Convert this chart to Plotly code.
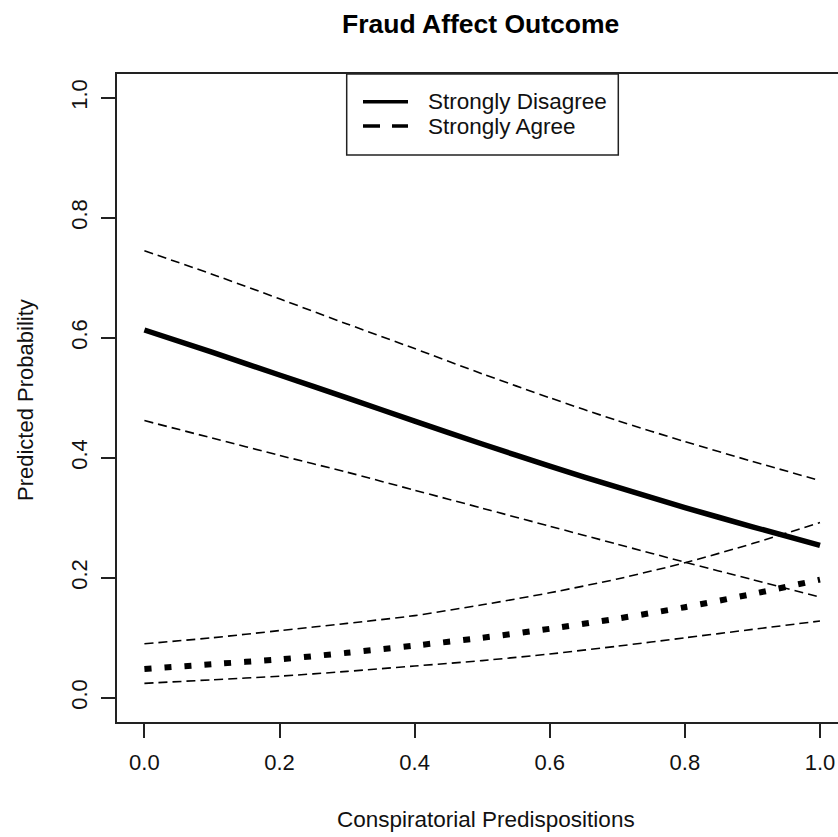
import plotly.graph_objects as go

# ---- data ----
x_vals = [0.0, 0.1, 0.2, 0.3, 0.4, 0.5, 0.6, 0.7, 0.8, 0.9, 1.0]

disagree_mean  = [0.613, 0.576, 0.538, 0.500, 0.461, 0.423, 0.386, 0.351, 0.317, 0.285, 0.254]
disagree_upper = [0.745, 0.706, 0.665, 0.623, 0.582, 0.540, 0.500, 0.462, 0.427, 0.394, 0.362]
disagree_lower = [0.462, 0.433, 0.404, 0.376, 0.346, 0.316, 0.286, 0.256, 0.226, 0.197, 0.168]

agree_mean  = [0.048, 0.056, 0.064, 0.075, 0.087, 0.100, 0.115, 0.132, 0.151, 0.173, 0.197]
agree_upper = [0.090, 0.100, 0.112, 0.124, 0.137, 0.155, 0.175, 0.198, 0.225, 0.257, 0.292]
agree_lower = [0.024, 0.030, 0.036, 0.044, 0.053, 0.062, 0.073, 0.086, 0.100, 0.114, 0.128]

tick_vals = [0.0, 0.2, 0.4, 0.6, 0.8, 1.0]
tick_text = ["0.0", "0.2", "0.4", "0.6", "0.8", "1.0"]

legend_labels = ["Strongly Disagree", "Strongly Agree"]
title_text = "Fraud Affect Outcome"
x_title = "Conspiratorial Predispositions"
y_title = "Predicted Probability"

FONT = "Liberation Sans, Arial, sans-serif"
W, H = 838, 837
L, R, T, B = 117, 0, 74, 115

fig = go.Figure()

ci_style = dict(color="black", width=1.6, dash="9px,5px", shape="spline", smoothing=0.6)
for ys in (disagree_upper, disagree_lower, agree_upper, agree_lower):
    fig.add_trace(go.Scatter(x=x_vals, y=ys, mode="lines", line=ci_style,
                             showlegend=False, hoverinfo="skip"))

fig.add_trace(go.Scatter(x=x_vals, y=disagree_mean, mode="lines",
                         line=dict(color="black", width=5.5, shape="spline", smoothing=0.6),
                         showlegend=False))
fig.add_trace(go.Scatter(x=x_vals, y=agree_mean, mode="lines",
                         line=dict(color="black", width=6, dash="7px,13px",
                                   shape="spline", smoothing=0.6),
                         showlegend=False))

# axis ranges so that the frame matches R's 4% padding (right side cut off)
x0 = (L - 144.4) / 675.6
x1 = (W - R - 144.4) / 675.6
y_top = (697.8 - T) / 600.0
y_bot = (697.8 - (H - B)) / 600.0

fig.update_xaxes(range=[x0, x1], tickvals=tick_vals, ticktext=tick_text,
                 ticks="outside", ticklen=14, tickwidth=1.5, tickcolor="#222",
                 showline=True, linewidth=1.5, linecolor="#222", mirror=True,
                 showgrid=False, zeroline=False,
                 tickfont=dict(family=FONT, size=22, color="#111"),
                 ticklabelstandoff=6)
fig.update_yaxes(range=[y_bot, y_top], tickvals=tick_vals, ticktext=tick_text,
                 ticks="outside", ticklen=14, tickwidth=1.5, tickcolor="#222",
                 showline=True, linewidth=1.5, linecolor="#222", mirror=False,
                 showgrid=False, zeroline=False, tickangle=-90,
                 tickfont=dict(family=FONT, size=22, color="#111"),
                 ticklabelstandoff=5)

# ---- legend box (drawn like R's legend("top")) ----
def dx(px):
    return (px - 144.4) / 675.6

def dy(py):
    return (697.8 - py) / 600.0

fig.add_shape(type="rect", xref="x", yref="y", x0=dx(346.7), x1=dx(618.3),
              y0=dy(155), y1=y_top, line=dict(color="#222", width=1.5),
              fillcolor="white", layer="above")
fig.add_shape(type="line", xref="x", yref="y", x0=dx(363), x1=dx(408),
              y0=dy(101.7), y1=dy(101.7), line=dict(color="black", width=3.5))
fig.add_shape(type="line", xref="x", yref="y", x0=dx(363), x1=dx(408),
              y0=dy(126), y1=dy(126), line=dict(color="black", width=3.5, dash="17px,12px"))
for lbl, py in zip(legend_labels, (101.7, 126)):
    fig.add_annotation(text=lbl, xref="x", yref="y", x=dx(426), y=dy(py),
                       xanchor="left", yanchor="middle", showarrow=False,
                       font=dict(family=FONT, size=22.5, color="#111"))

PW = W - L - R
PH = H - T - B

def px_x(px):
    return (px - L) / PW

def px_y(py):
    return (H - B - py) / PH

fig.add_annotation(text="<b>" + title_text + "</b>", xref="paper", yref="paper",
                   x=px_x(480), y=px_y(24), xanchor="center", yanchor="middle",
                   showarrow=False, font=dict(family=FONT, size=26.5, color="black"))
fig.add_annotation(text=x_title, xref="paper", yref="paper",
                   x=px_x(486), y=px_y(819), xanchor="center", yanchor="middle",
                   showarrow=False, font=dict(family=FONT, size=22.5, color="#111"))
fig.add_annotation(text=y_title, xref="paper", yref="paper",
                   x=px_x(25), y=px_y(400), xanchor="center", yanchor="middle",
                   textangle=-90, showarrow=False,
                   font=dict(family=FONT, size=22, color="#111"))

fig.update_layout(width=W, height=H, margin=dict(l=L, r=R, t=T, b=B, pad=0),
                  paper_bgcolor="white", plot_bgcolor="white", showlegend=False)

fig.write_html("out.html")
